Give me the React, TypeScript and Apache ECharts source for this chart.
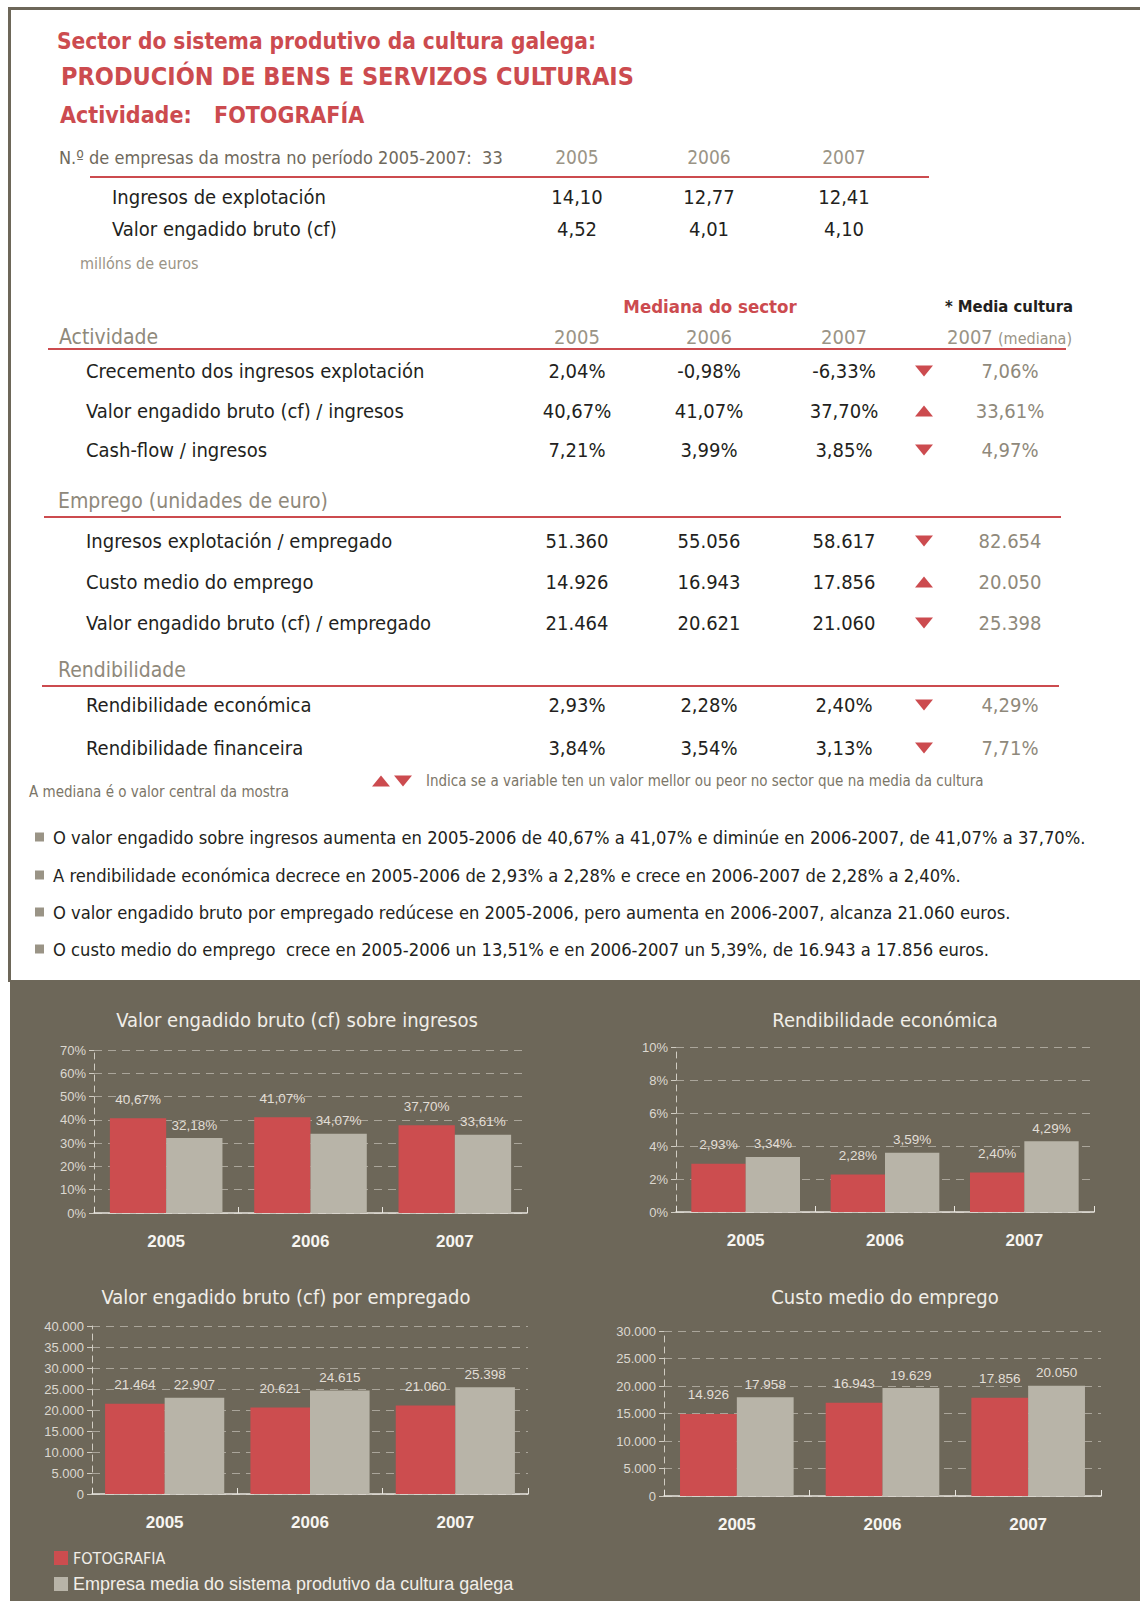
import React, { useEffect, useRef } from "react";
import * as echarts from "echarts";

// ---------- DATA ----------
const years = ["2005", "2006", "2007"];
const ingresosExplotacion = [14.1, 12.77, 12.41];
const valorEngadidoBruto = [4.52, 4.01, 4.1];
const nEmpresas = 33;

const actividadeLabels = [
  "Crecemento dos ingresos explotación",
  "Valor engadido bruto (cf) / ingresos",
  "Cash-flow / ingresos",
];
const actividadeValues = [
  [2.04, -0.98, -6.33],
  [40.67, 41.07, 37.7],
  [7.21, 3.99, 3.85],
];
const actividadeMedia = [7.06, 33.61, 4.97];
const actividadeArrows = ["down", "up", "down"];

const empregoLabels = [
  "Ingresos explotación / empregado",
  "Custo medio do emprego",
  "Valor engadido bruto (cf) / empregado",
];
const empregoValues = [
  [51360, 55056, 58617],
  [14926, 16943, 17856],
  [21464, 20621, 21060],
];
const empregoMedia = [82654, 20050, 25398];
const empregoArrows = ["down", "up", "down"];

const rendibilidadeLabels = ["Rendibilidade económica", "Rendibilidade financeira"];
const rendibilidadeValues = [
  [2.93, 2.28, 2.4],
  [3.84, 3.54, 3.13],
];
const rendibilidadeMedia = [4.29, 7.71];
const rendibilidadeArrows = ["down", "down"];

const bullets = [
  "O valor engadido sobre ingresos aumenta en 2005-2006 de 40,67% a 41,07% e diminúe en 2006-2007, de 41,07% a 37,70%.",
  "A rendibilidade económica decrece en 2005-2006 de 2,93% a 2,28% e crece en 2006-2007 de 2,28% a 2,40%.",
  "O valor engadido bruto por empregado redúcese en 2005-2006, pero aumenta en 2006-2007, alcanza 21.060 euros.",
  "O custo medio do emprego  crece en 2005-2006 un 13,51% e en 2006-2007 un 5,39%, de 16.943 a 17.856 euros.",
];

const chartTitles = [
  "Valor engadido bruto (cf) sobre ingresos",
  "Rendibilidade económica",
  "Valor engadido bruto (cf) por empregado",
  "Custo medio do emprego",
];
const vabIngresosFoto = [40.67, 41.07, 37.7];
const vabIngresosMedia = [32.18, 34.07, 33.61];
const rendEconFoto = [2.93, 2.28, 2.4];
const rendEconMedia = [3.34, 3.59, 4.29];
const vabEmpregadoFoto = [21464, 20621, 21060];
const vabEmpregadoMedia = [22907, 24615, 25398];
const custoFoto = [14926, 16943, 17856];
const custoMedia = [17958, 19629, 20050];
const seriesNames = ["FOTOGRAFIA", "Empresa media do sistema produtivo da cultura galega"];

// ---------- STYLE ----------
const NARROW = "'Liberation Sans Narrow', 'DejaVu Sans Condensed', 'Liberation Sans', sans-serif";
const ARIAL = "'Liberation Sans', Arial, sans-serif";
const RED = "#cc4b4f";
const GREYBROWN = "#6d6759";
const BAR_RED = "#cc4d4f";
const BAR_GREY = "#b8b4a8";
const DARK = "#231f20";
const MUTED = "#8f897b";

const pct = (v: number) => v.toFixed(2).replace(".", ",") + "%";
const dec = (v: number) => v.toFixed(2).replace(".", ",");
const thou = (v: number) => String(Math.round(v)).replace(/\B(?=(\d{3})+(?!\d))/g, ".");

function txt(x: number, y: number, text: string, o: any = {}) {
  return {
    type: "text",
    x,
    y,
    silent: true,
    style: {
      text,
      fill: o.fill || DARK,
      fontSize: o.size || 18,
      fontFamily: o.family || NARROW,
      fontWeight: o.weight || "normal",
      align: o.align || "left",
      verticalAlign: "middle",
      textAlign: o.align || "left",
      textVerticalAlign: "middle",
    },
  };
}

function hline(x1: number, x2: number, y: number) {
  return {
    type: "line",
    silent: true,
    shape: { x1, y1: y, x2, y2: y },
    style: { stroke: RED, lineWidth: 2 },
  };
}

function tri(cx: number, cy: number, dir: string) {
  const w = 9, h = 5.5;
  const pts =
    dir === "up"
      ? [[cx - w, cy + h], [cx + w, cy + h], [cx, cy - h]]
      : [[cx - w, cy - h], [cx + w, cy - h], [cx, cy + h]];
  return { type: "polygon", silent: true, shape: { points: pts }, style: { fill: RED } };
}

const colX = [577, 709, 844];
const arrowX = 924;
const mediaX = 1010;

function buildGraphics() {
  const g: any[] = [];
  // frame
  g.push({ type: "rect", silent: true, shape: { x: 8, y: 7, width: 1132, height: 3 }, style: { fill: GREYBROWN } });
  g.push({ type: "rect", silent: true, shape: { x: 8, y: 7, width: 3, height: 975 }, style: { fill: GREYBROWN } });
  g.push({ type: "rect", silent: true, shape: { x: 10, y: 980, width: 1130, height: 621 }, style: { fill: GREYBROWN } });

  // titles
  g.push(txt(57, 41, "Sector do sistema produtivo da cultura galega:", { fill: RED, size: 22.5, weight: "bold" }));
  g.push(txt(61, 76, "PRODUCIÓN DE BENS E SERVIZOS CULTURAIS", { fill: RED, size: 25, weight: "bold" }));
  g.push(txt(60, 115, "Actividade:", { fill: RED, size: 23, weight: "bold" }));
  g.push(txt(214, 115, "FOTOGRAFÍA", { fill: RED, size: 23, weight: "bold" }));

  // top table
  g.push(txt(59, 157, "N.º de empresas da mostra no período 2005-2007:  " + nEmpresas, { fill: "#6f695c", size: 18 }));
  years.forEach((y, i) => g.push(txt(colX[i], 157, y, { fill: "#9a9486", size: 19, align: "center" })));
  g.push(hline(90, 929, 177));
  g.push(txt(112, 197, "Ingresos de explotación", { size: 20 }));
  g.push(txt(112, 229, "Valor engadido bruto (cf)", { size: 20 }));
  ingresosExplotacion.forEach((v, i) => g.push(txt(colX[i], 197, dec(v), { size: 20, align: "center" })));
  valorEngadidoBruto.forEach((v, i) => g.push(txt(colX[i], 229, dec(v), { size: 20, align: "center" })));
  g.push(txt(80, 263, "millóns de euros", { fill: "#9a9486", size: 16 }));

  // headers
  g.push(txt(710, 306, "Mediana do sector", { fill: RED, size: 18.5, weight: "bold", align: "center" }));
  g.push(txt(1073, 306, "* Media cultura", { fill: DARK, size: 16.5, weight: "bold", align: "right" }));
  g.push(txt(59, 337, "Actividade", { fill: MUTED, size: 21 }));
  years.forEach((y, i) => g.push(txt(colX[i], 337, y, { fill: "#9a9486", size: 20, align: "center" })));
  g.push(txt(947, 337, "2007", { fill: "#9a9486", size: 20 }));
  g.push(txt(998, 338, "(mediana)", { fill: "#9a9486", size: 16 }));
  g.push(hline(48, 1066, 349));

  const section = (labels: string[], values: number[][], media: number[], arrows: string[], ys: number[], fmt: (v: number) => string) => {
    labels.forEach((l, r) => {
      g.push(txt(86, ys[r], l, { size: 20 }));
      values[r].forEach((v, i) => g.push(txt(colX[i], ys[r], fmt(v), { size: 20, align: "center" })));
      g.push(tri(arrowX, ys[r], arrows[r]));
      g.push(txt(mediaX, ys[r], fmt(media[r]), { fill: MUTED, size: 20, align: "center" }));
    });
  };
  section(actividadeLabels, actividadeValues, actividadeMedia, actividadeArrows, [371, 411, 450], pct);

  g.push(txt(58, 501, "Emprego (unidades de euro)", { fill: MUTED, size: 21 }));
  g.push(hline(44, 1061, 517));
  section(empregoLabels, empregoValues, empregoMedia, empregoArrows, [541, 582, 623], thou);

  g.push(txt(58, 670, "Rendibilidade", { fill: MUTED, size: 21 }));
  g.push(hline(42, 1059, 686));
  section(rendibilidadeLabels, rendibilidadeValues, rendibilidadeMedia, rendibilidadeArrows, [705, 748], pct);

  // legend for arrows
  g.push(tri(381, 781, "up"));
  g.push(tri(403, 781, "down"));
  g.push(txt(426, 781, "Indica se a variable ten un valor mellor ou peor no sector que na media da cultura", { fill: "#7c7668", size: 15 }));
  g.push(txt(29, 792, "A mediana é o valor central da mostra", { fill: "#7c7668", size: 15 }));

  // bullets
  const by = [837, 875, 912, 949];
  bullets.forEach((b, i) => {
    g.push({ type: "rect", silent: true, shape: { x: 35, y: by[i] - 4.5, width: 9, height: 9 }, style: { fill: "#9a9486" } });
    g.push(txt(53, by[i], b, { size: 18.2 }));
  });

  // chart titles
  const tpos = [[297, 1020], [885, 1020], [286, 1297], [885, 1297]];
  chartTitles.forEach((t, i) => g.push(txt(tpos[i][0], tpos[i][1], t, { fill: "#f1eee8", size: 20, align: "center" })));
  return g;
}

const grids = [
  { left: 94, top: 1050, width: 433, height: 163 },
  { left: 676, top: 1047, width: 418, height: 165 },
  { left: 92, top: 1326, width: 436, height: 168 },
  { left: 664, top: 1331, width: 437, height: 165 },
];
const yMax = [70, 10, 40000, 30000];
const yInterval = [10, 2, 5000, 5000];
const catGap = ["22%", "22%", "18%", "22%"];

function buildOption() {
  const dataPairs = [
    [vabIngresosFoto, vabIngresosMedia],
    [rendEconFoto, rendEconMedia],
    [vabEmpregadoFoto, vabEmpregadoMedia],
    [custoFoto, custoMedia],
  ];
  const isPct = [true, true, false, false];
  const series: any[] = [];
  dataPairs.forEach((pair, gi) => {
    pair.forEach((data, si) => {
      series.push({
        type: "bar",
        name: seriesNames[si],
        xAxisIndex: gi,
        yAxisIndex: gi,
        data,
        barGap: "0%",
        barCategoryGap: catGap[gi],
        itemStyle: { color: si === 0 ? BAR_RED : BAR_GREY },
        label: {
          show: true,
          position: "top",
          distance: si === 0 ? 12 : 6,
          color: "#e2ded6",
          fontSize: 13.5,
          fontFamily: ARIAL,
          formatter: (p: any) => (isPct[gi] ? pct(p.value) : thou(p.value)),
        },
      });
    });
  });

  const legendBase = {
    orient: "vertical",
    left: 54,
    padding: 0,
    itemWidth: 14,
    itemHeight: 14,
    itemGap: 10,
    icon: "rect",
    selectedMode: false,
  };

  return {
    animation: false,
    backgroundColor: "transparent",
    graphic: { elements: buildGraphics() },
    grid: grids.map((g) => ({ ...g, containLabel: false })),
    legend: [
      {
        ...legendBase,
        top: 1550,
        data: [{ name: seriesNames[0], textStyle: { color: "#f1eee8", fontSize: 16, fontFamily: NARROW } }],
      },
      {
        ...legendBase,
        top: 1575,
        data: [{ name: seriesNames[1], textStyle: { color: "#f1eee8", fontSize: 18, fontFamily: ARIAL } }],
      },
    ],
    xAxis: grids.map((_, i) => ({
      type: "category",
      gridIndex: i,
      data: years,
      axisLine: { lineStyle: { color: "#e8e5de", width: 1.5 } },
      axisTick: { show: true, inside: true, length: 6, lineStyle: { color: "#e8e5de" } },
      axisLabel: { color: "#f7f5f1", fontSize: 17, fontWeight: "bold", fontFamily: ARIAL, margin: 20 },
      splitLine: { show: false },
    })),
    yAxis: grids.map((_, i) => ({
      type: "value",
      gridIndex: i,
      min: 0,
      max: yMax[i],
      interval: yInterval[i],
      axisLine: { show: true, lineStyle: { color: "#d0ccc2", type: [6, 5], width: 1 } },
      axisTick: { show: true, length: 5, lineStyle: { color: "#d0ccc2" } },
      axisLabel: {
        color: "#dcd8d0",
        fontSize: 13,
        fontFamily: ARIAL,
        margin: 8,
        formatter: (v: number) => (i < 2 ? v + "%" : v === 0 ? "0" : thou(v)),
      },
      splitLine: { show: true, lineStyle: { color: "#aaa59a", type: [8, 6], width: 1.2 } },
    })),
    series,
  };
}

export default function App() {
  const ref = useRef<HTMLDivElement>(null);
  useEffect(() => {
    if (!ref.current) return;
    const chart = echarts.init(ref.current, undefined, { renderer: "svg" });
    chart.setOption(buildOption() as any);
    return () => chart.dispose();
  }, []);
  return (
    <div
      ref={ref}
      style={{ position: "absolute", left: 0, top: 0, width: 1140, height: 1601, background: "#ffffff" }}
    />
  );
}
